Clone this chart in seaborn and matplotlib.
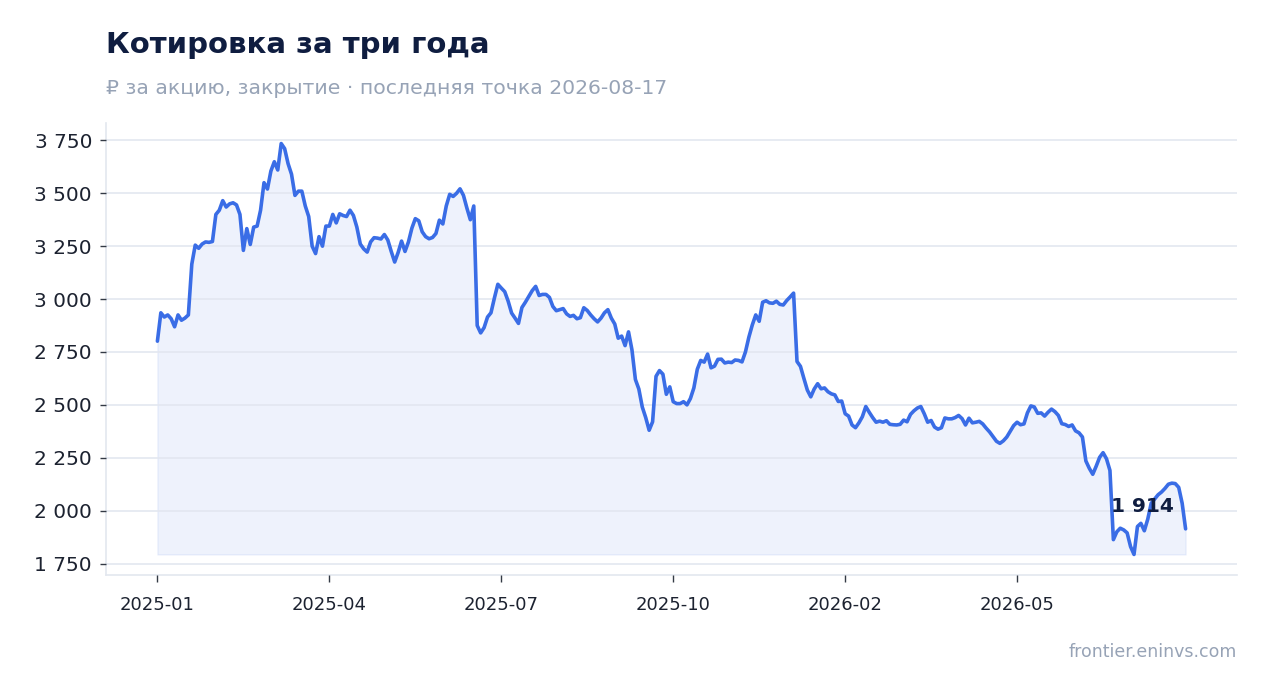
import matplotlib
matplotlib.use("Agg")
import matplotlib.pyplot as plt
from matplotlib.ticker import FuncFormatter, FixedLocator
import seaborn as sns
import numpy as np
import pandas as pd

# ---- data (closing price, ₽ per share; one point per ~2 trading days) ----
prices = [
    2801, 2935, 2915, 2925, 2907, 2869, 2925, 2900, 2910, 2925,
    3165, 3255, 3240, 3260, 3270, 3268, 3272, 3400, 3420, 3465,
    3435, 3450, 3455, 3445, 3400, 3230, 3333, 3258, 3340, 3345,
    3420, 3550, 3520, 3605, 3649, 3610, 3735, 3711, 3640, 3590,
    3490, 3510, 3510, 3440, 3390, 3250, 3215, 3295, 3250, 3345,
    3345, 3400, 3360, 3403, 3395, 3390, 3420, 3395, 3340, 3260,
    3237, 3222, 3270, 3290, 3288, 3284, 3305, 3279, 3225, 3175,
    3220, 3274, 3225, 3270, 3335, 3380, 3370, 3318, 3295, 3285,
    3291, 3310, 3373, 3355, 3440, 3495, 3485, 3500, 3521, 3490,
    3430, 3375, 3440, 2875, 2840, 2865, 2915, 2935, 3005, 3070,
    3052, 3035, 2990, 2934, 2910, 2885, 2960, 2985, 3012, 3040,
    3060, 3017, 3022, 3022, 3008, 2965, 2945, 2950, 2955, 2930,
    2918, 2923, 2907, 2912, 2959, 2946, 2925, 2907, 2892, 2910,
    2935, 2950, 2910, 2882, 2815, 2825, 2780, 2845, 2760, 2620,
    2575, 2490, 2440, 2380, 2420, 2635, 2662, 2645, 2550, 2585,
    2515, 2506, 2506, 2515, 2500, 2530, 2580, 2668, 2710, 2702,
    2740, 2675, 2683, 2715, 2716, 2698, 2702, 2700, 2712, 2710,
    2703, 2750, 2820, 2878, 2925, 2895, 2985, 2992, 2982, 2980,
    2990, 2975, 2972, 2993, 3010, 3028, 2705, 2682, 2625, 2570,
    2538, 2575, 2600, 2576, 2580, 2562, 2552, 2547, 2516, 2518,
    2458, 2447, 2405, 2392, 2415, 2444, 2492, 2465, 2440, 2418,
    2423, 2418, 2425, 2408, 2406, 2405, 2408, 2428, 2420, 2455,
    2472, 2485, 2492, 2458, 2418, 2426, 2395, 2385, 2392, 2438,
    2434, 2434, 2440, 2450, 2435, 2405, 2437, 2415, 2418, 2422,
    2410, 2390, 2372, 2350, 2328, 2318, 2330, 2348, 2375, 2402,
    2418, 2406, 2410, 2462, 2495, 2490, 2460, 2462, 2447, 2465,
    2480, 2468, 2450, 2411, 2407, 2398, 2405, 2377, 2368, 2348,
    2235, 2200, 2172, 2210, 2252, 2274, 2245, 2190, 1863, 1900,
    1917, 1909, 1895, 1830, 1793, 1925, 1940, 1905, 1960, 2035,
    2055, 2075, 2088, 2105, 2125, 2130, 2128, 2110, 2035, 1914,
]
tick_labels = ["2025-01", "2025-04", "2025-07", "2025-10", "2026-02", "2026-05"]
tick_step = 50
y_ticks = [1750, 2000, 2250, 2500, 2750, 3000, 3250, 3500, 3750]

title = "Котировка за три года"
subtitle = "₽ за акцию, закрытие · последняя точка 2026-08-17"
footer = "frontier.eninvs.com"

# ---- style ----
sns.set_style("white")
plt.rcParams["font.family"] = ["DejaVu Sans"]

LINE = "#3a6de6"
NAVY = "#0f1d40"
GREY = "#97a3b6"
GRID = "#e3e7f0"

df = pd.DataFrame({"idx": np.arange(len(prices)), "price": prices})

fig = plt.figure(figsize=(12.68, 6.93), dpi=100)
ax = fig.add_axes([106 / 1268, 1 - 575 / 693, (1237 - 106) / 1268, (575 - 123) / 693])

ax.fill_between(df["idx"], df["price"], df["price"].min(), color=LINE, alpha=0.085,
                linewidth=1.0, zorder=1)
sns.lineplot(data=df, x="idx", y="price", ax=ax, color=LINE, linewidth=2.6, zorder=3)

ax.margins(x=0.05, y=0.05)
ax.set_xlabel("")
ax.set_ylabel("")

ax.xaxis.set_major_locator(FixedLocator(list(range(0, len(prices), tick_step))[:len(tick_labels)]))
ax.set_xticklabels(tick_labels)
ax.yaxis.set_major_locator(FixedLocator(y_ticks))
ax.yaxis.set_major_formatter(FuncFormatter(lambda v, p: f"{int(v):,}".replace(",", " ")))

ax.grid(axis="y", color=GRID, linewidth=1.2, zorder=0)
ax.grid(axis="x", visible=False)
ax.set_axisbelow(False)
for s in ["top", "right"]:
    ax.spines[s].set_visible(False)
for s in ["left", "bottom"]:
    ax.spines[s].set_color("#e3e7ef")
    ax.spines[s].set_linewidth(1.2)

ax.tick_params(axis="y", labelsize=14.5, colors="#333a45", length=4, width=1, pad=6,
               labelcolor="#1c2230")
ax.tick_params(axis="x", labelsize=13, colors="#333a45", length=5, width=1, pad=10,
               labelcolor="#1c2230")
ax.tick_params(left=True, bottom=True)

# last value label
last_i = len(prices) - 1
last_v = prices[-1]
ax.annotate(f"{last_v:,}".replace(",", " "), xy=(last_i, last_v),
            xytext=(-12, 22), textcoords="offset pixels",
            ha="right", va="center", fontsize=14.5, fontweight="bold", color=NAVY, zorder=5)

fig.text(106 / 1268, 1 - 53 / 693, title, fontsize=21, fontweight="bold", color=NAVY,
         ha="left", va="baseline")
fig.text(106 / 1268, 1 - 94 / 693, subtitle, fontsize=14.7, color=GREY, ha="left", va="baseline")
fig.text(1237 / 1268, 1 - 657 / 693, footer, fontsize=12.5, color=GREY, ha="right", va="baseline")

fig.savefig("out.png", dpi=100)
